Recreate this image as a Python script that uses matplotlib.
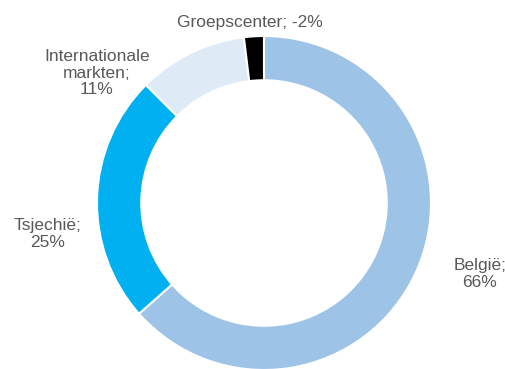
import matplotlib.pyplot as plt

# Segment data (Groepscenter is negative, drawn by its size)
labels = ['België', 'Tsjechië', 'Internationale\nmarkten', 'Groepscenter']
values = [66, 25, 11, -2]
colors = ['#9DC3E6', '#00B0F0', '#DEEBF7', '#000000']

plt.rcParams['font.family'] = ['Liberation Sans', 'DejaVu Sans']

fig = plt.figure(figsize=(5.06, 3.69), dpi=100)
W, H = 506, 369
cx, cy, r = 264, 203, 167
ax = fig.add_axes([(cx - r) / W, (H - cy - r) / H, 2 * r / W, 2 * r / H])

sizes = [abs(v) for v in values]
ax.pie(sizes, colors=colors, startangle=90, counterclock=False, radius=1,
       wedgeprops=dict(width=0.265, edgecolor='white', linewidth=1.5))
ax.set_xlim(-1, 1)
ax.set_ylim(-1, 1)
ax.set_aspect('equal')
ax.axis('off')

# Label positions in pixels
label_pos = [(480, 274), (48, 234), (97, 73), (250, 23)]
for lab, v, (px, py) in zip(labels, values, label_pos):
    if lab == 'Groepscenter':
        txt = f'{lab}; {v}%'
    else:
        txt = f'{lab};\n{v}%'
    fig.text(px / W, 1 - py / H, txt, ha='center', va='center',
             fontsize=12.5, color='#595959', linespacing=1.15)

plt.savefig('out.png', dpi=100)
